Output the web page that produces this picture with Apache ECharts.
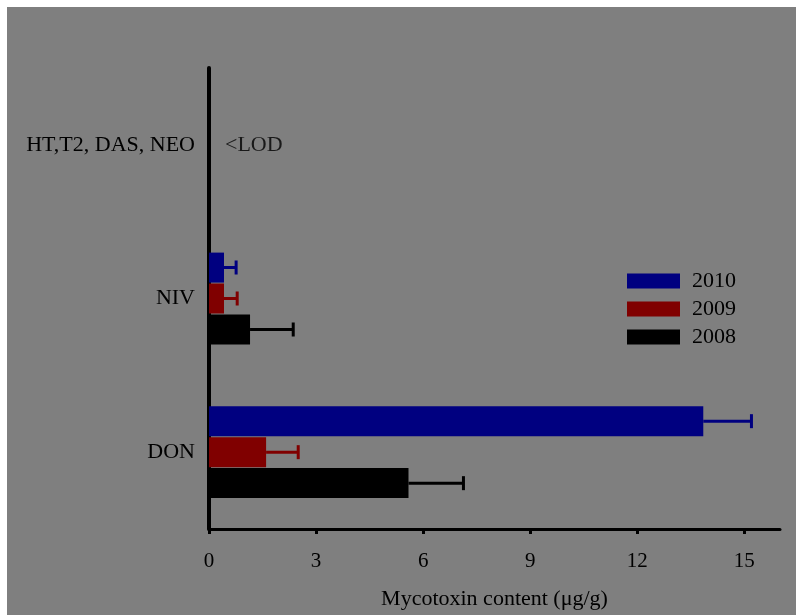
<!DOCTYPE html>
<html>
<head>
<meta charset="utf-8">
<script src="https://cdn.jsdelivr.net/npm/echarts@6/dist/echarts.min.js"></script>
<style>
  html, body { margin: 0; padding: 0; background: #fff; }
  #bg { position: absolute; left: 7px; top: 7px; width: 789px; height: 608px; background: #7f7f7f; }
  #chart { position: absolute; left: 0; top: 0; width: 798px; height: 615px; }
</style>
</head>
<body>
<div id="bg"></div>
<div id="chart"></div>
<script>
const categories = ['DON', 'NIV', 'HT,T2, DAS, NEO']
const years = ['2010', '2009', '2008']
const mean2010 = [13.85, 0.42, 0]
const mean2009 = [1.6, 0.42, 0]
const mean2008 = [5.59, 1.15, 0]
const err2010 = [1.35, 0.34, 0]
const err2009 = [0.9, 0.37, 0]
const err2008 = [1.54, 1.21, 0]
const xTicks = [0, 3, 6, 9, 12, 15]
const lodLabel = '<LOD'

// series 0 sits on top of each band in a horizontal bar chart
const colors = ['#000080', '#800000', '#000000']
const means = [mean2010, mean2009, mean2008]
const errs = [err2010, err2009, err2008]
const font = 'Liberation Serif, Times New Roman, serif'
const barW = 30

const chart = echarts.init(document.getElementById('chart'))

const barSeries = years.map((y, k) => ({
  name: y,
  type: 'bar',
  barWidth: barW,
  barGap: '3%',
  itemStyle: { color: colors[k] },
  data: means[k]
}))

const errSeries = years.map((y, k) => ({
  type: 'custom',
  silent: true,
  z: 3,
  data: means[k].map((v, i) => [v, i, errs[k][i]]),
  encode: { x: 0, y: 1 },
  renderItem: (params, api) => {
    const v = api.value(0)
    const e = api.value(2)
    if (!e) return null
    const cat = api.value(1)
    const off = (k - 1) * (barW + 1)
    const p0 = api.coord([v, cat])
    const p1 = api.coord([v + e, cat])
    const yy = p0[1] + off
    const style = { stroke: colors[k], lineWidth: 3 }
    return {
      type: 'group',
      children: [
        { type: 'line', shape: { x1: p0[0], y1: yy, x2: p1[0], y2: yy }, style },
        { type: 'line', shape: { x1: p1[0], y1: yy - 7, x2: p1[0], y2: yy + 7 }, style }
      ]
    }
  }
}))

const option = {
  backgroundColor: 'transparent',
  animation: false,
  textStyle: { fontFamily: font, color: '#000' },
  grid: { left: 209, right: 18, top: 68, bottom: 82 },
  legend: {
    orient: 'vertical',
    left: 622,
    top: 265,
    itemWidth: 53,
    itemHeight: 15,
    itemGap: 6,
    icon: 'rect',
    data: years,
    textStyle: { fontFamily: font, fontSize: 22, color: '#000', padding: [0, 0, 0, 7] }
  },
  xAxis: {
    type: 'value',
    min: 0,
    max: 16,
    interval: 3,
    name: 'Mycotoxin content (μg/g)',
    nameLocation: 'middle',
    nameGap: 59,
    nameTextStyle: { fontFamily: font, fontSize: 22, color: '#000' },
    axisLine: { show: true, lineStyle: { color: '#000', width: 3 } },
    axisTick: { show: true, length: 5, lineStyle: { color: '#000', width: 3 }, customValues: xTicks },
    axisLabel: { fontFamily: font, fontSize: 21, color: '#000', margin: 22, customValues: xTicks },
    splitLine: { show: false }
  },
  yAxis: {
    type: 'category',
    data: categories,
    axisLine: { show: true, lineStyle: { color: '#000', width: 4 } },
    axisTick: { show: false },
    axisLabel: { fontFamily: font, fontSize: 22, color: '#000', margin: 14, padding: [4, 0, 0, 0] }
  },
  series: [
    ...barSeries,
    ...errSeries,
    {
      type: 'scatter',
      symbolSize: 0,
      silent: true,
      data: [[0, categories[2]]],
      label: {
        show: true,
        position: 'right',
        distance: 16,
        padding: [4, 0, 0, 0],
        formatter: lodLabel,
        fontFamily: font,
        fontSize: 22,
        color: '#000'
      }
    }
  ]
}

chart.setOption(option)
</script>
</body>
</html>
